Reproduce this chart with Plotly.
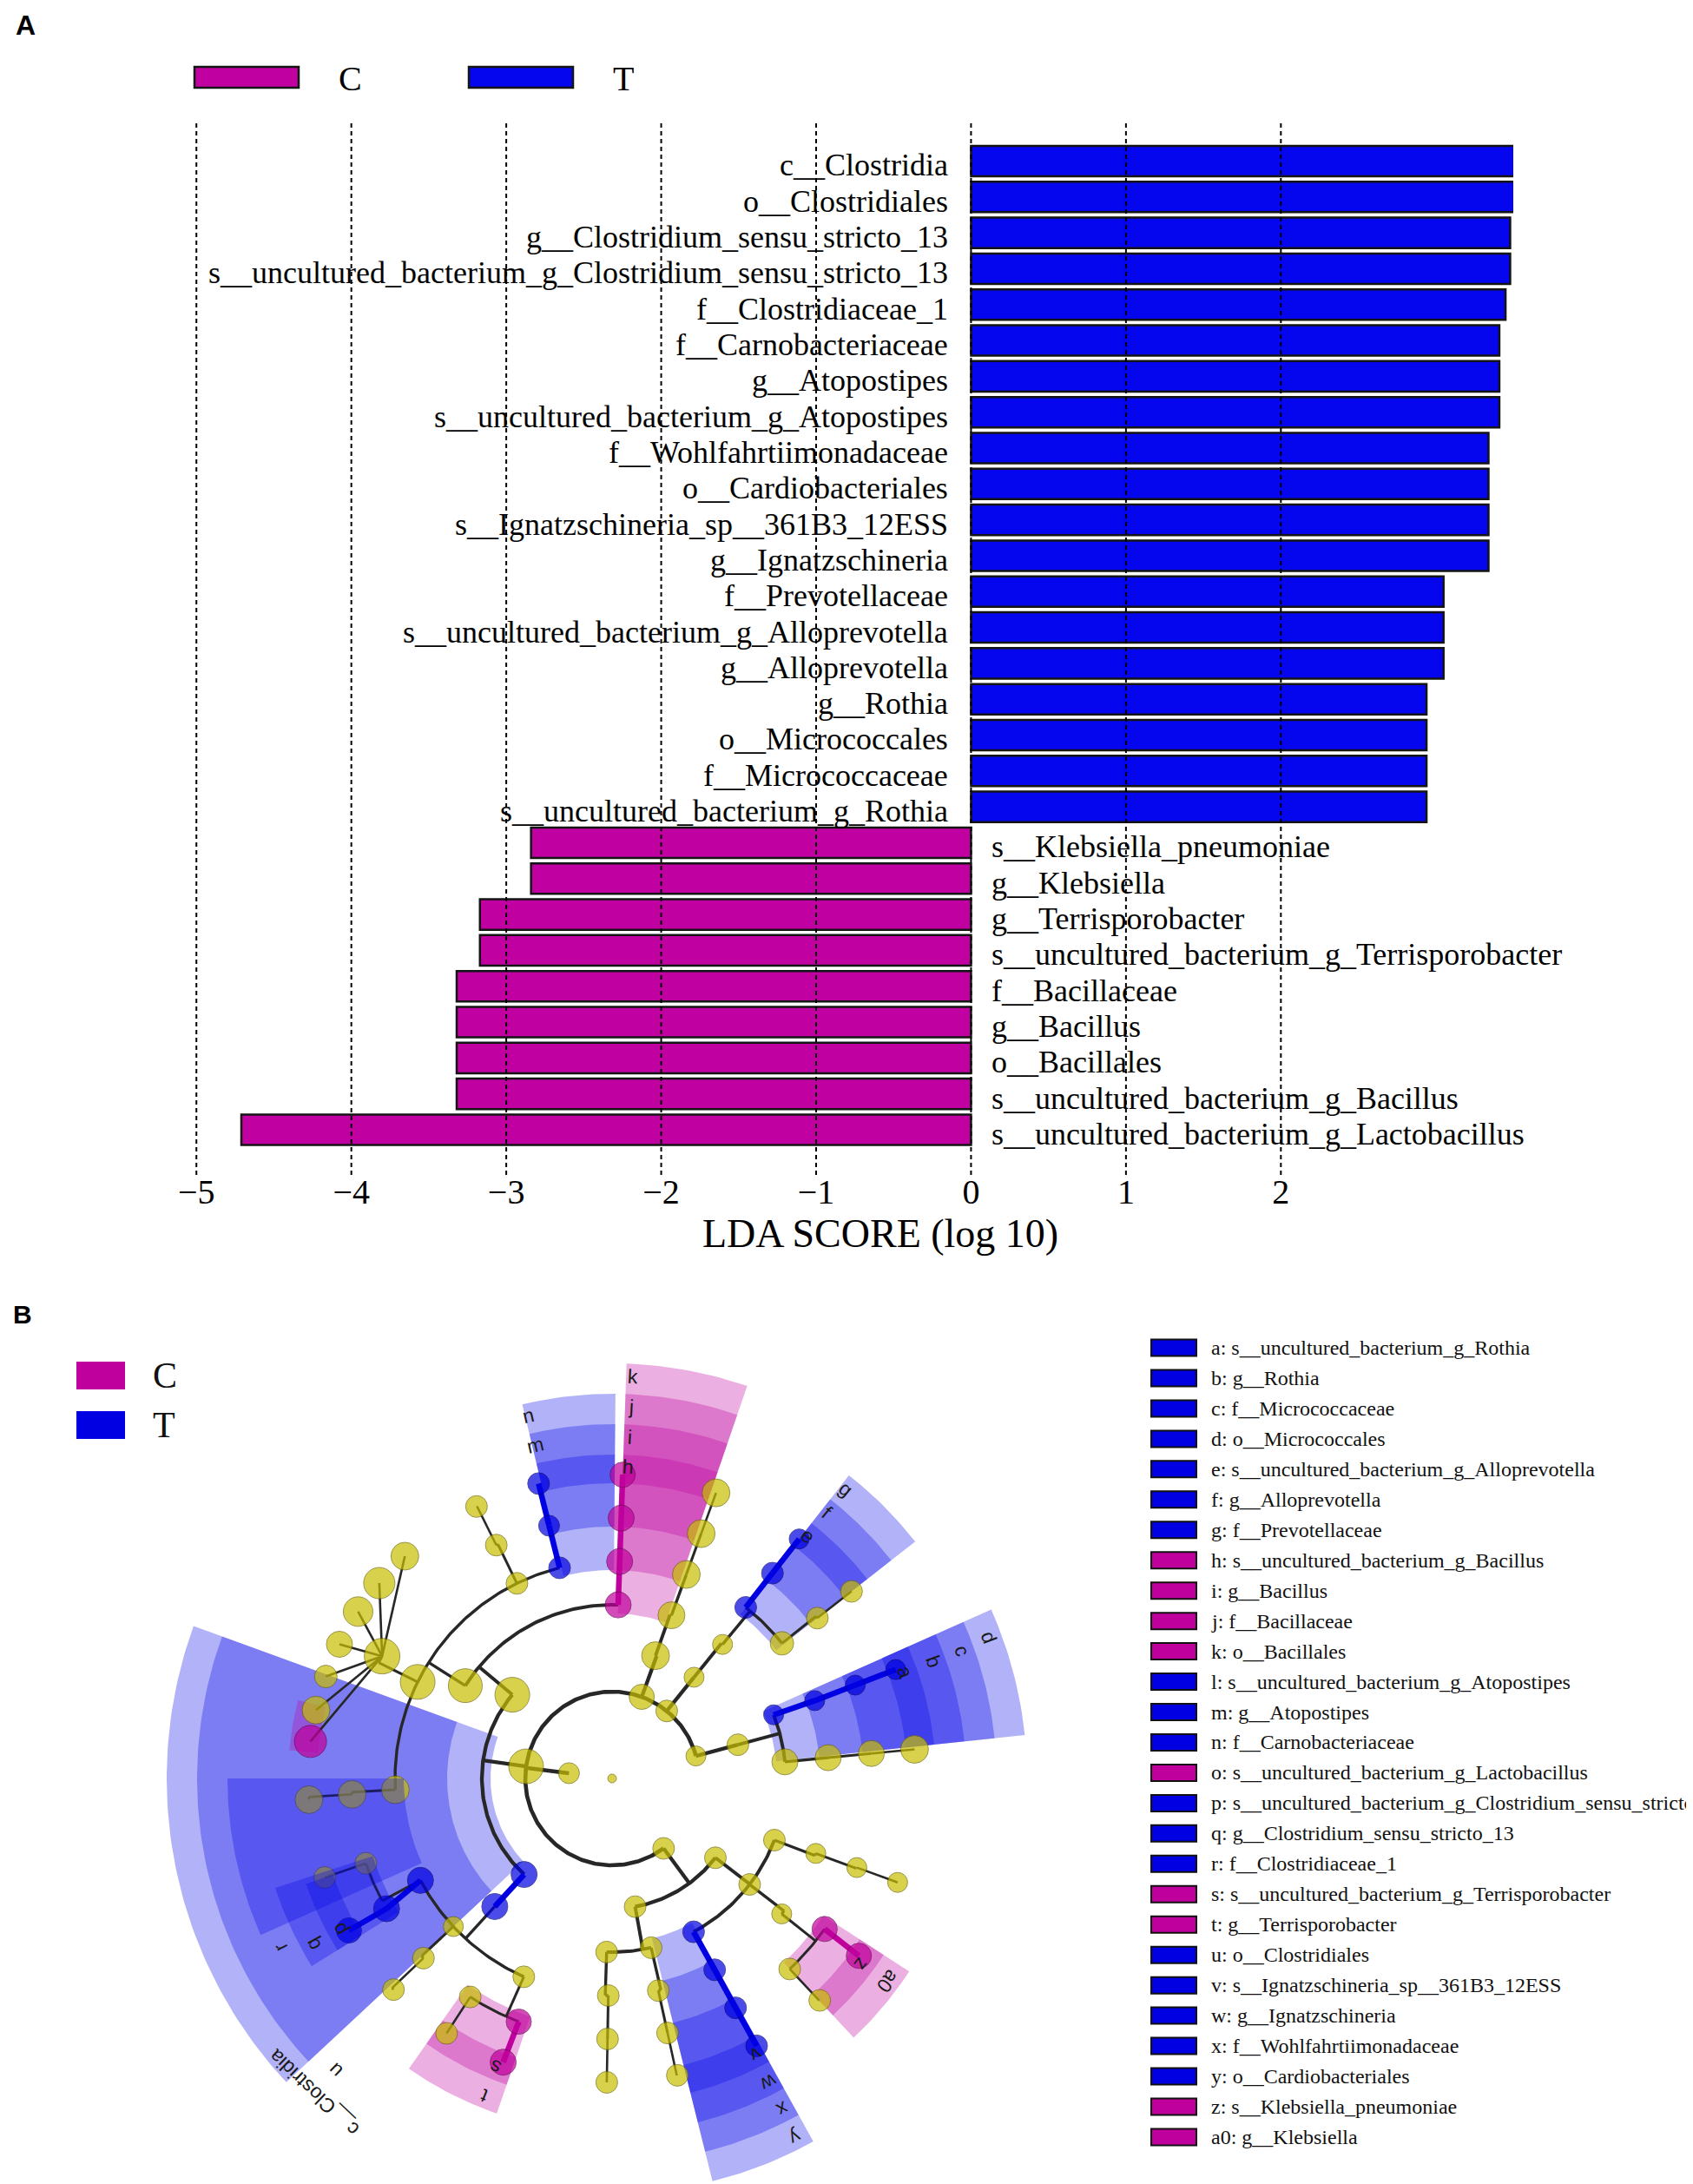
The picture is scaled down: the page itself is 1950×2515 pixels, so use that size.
import math
from collections import defaultdict
import plotly.graph_objects as go

W, H = 1950, 2515
SERIF = "Liberation Serif, Times New Roman, serif"
SANS = "Liberation Sans, Arial, sans-serif"


def px(x):
    return x / W


def py(y):
    return 1 - y / H


# ---------------- Panel A data (LDA scores) ----------------
taxa = [
    "c__Clostridia", "o__Clostridiales", "g__Clostridium_sensu_stricto_13",
    "s__uncultured_bacterium_g_Clostridium_sensu_stricto_13", "f__Clostridiaceae_1",
    "f__Carnobacteriaceae", "g__Atopostipes", "s__uncultured_bacterium_g_Atopostipes",
    "f__Wohlfahrtiimonadaceae", "o__Cardiobacteriales", "s__Ignatzschineria_sp__361B3_12ESS",
    "g__Ignatzschineria", "f__Prevotellaceae", "s__uncultured_bacterium_g_Alloprevotella",
    "g__Alloprevotella", "g__Rothia", "o__Micrococcales", "f__Micrococcaceae",
    "s__uncultured_bacterium_g_Rothia", "s__Klebsiella_pneumoniae", "g__Klebsiella",
    "g__Terrisporobacter", "s__uncultured_bacterium_g_Terrisporobacter", "f__Bacillaceae",
    "g__Bacillus", "o__Bacillales", "s__uncultured_bacterium_g_Bacillus",
    "s__uncultured_bacterium_g_Lactobacillus",
]
lda = [3.52, 3.52, 3.48, 3.48, 3.45, 3.41, 3.41, 3.41, 3.34, 3.34, 3.34, 3.34,
       3.05, 3.05, 3.05, 2.94, 2.94, 2.94, 2.94,
       -2.84, -2.84, -3.17, -3.17, -3.32, -3.32, -3.32, -3.32, -4.71]
lda_group = ["T"] * 19 + ["C"] * 9
x_ticks = [-5, -4, -3, -2, -1, 0, 1, 2]
group_names = ["C", "T"]
bar_colors = {"C": "#C000A0", "T": "#0505EE"}

# ---------------- Panel B data (cladogram) ----------------
# node id, parent, taxonomic level (0 = root), angle in degrees (clockwise from east), size, group
node_id = ["root", "K",
           "P_act", "C_act", "d", "c", "b", "a", "O_act2", "F_act2", "G_act2", "S_act2",
           "P_bac", "C_bac", "O_bac", "g", "f", "e", "F_bac2", "G_bac2", "S_bac2",
           "P_3", "C_3", "O_3", "F_3", "G_3", "S_3",
           "P_firm", "C_bacilli", "k", "j", "i", "h", "O_lacto", "n", "m", "l",
           "F_y1", "G_y1", "S_y1", "F_lacto", "G_lacto",
           "S_l1", "S_l2", "S_l3", "S_l4", "S_l5", "S_l6", "o",
           "F_y2", "G_y2", "S_y2",
           "cc", "u", "r", "q", "p", "G_r2", "S_r2", "F_u2", "G_u2", "S_u2",
           "F_u3", "G_u3", "S_u3", "t", "s",
           "P_prot", "C_gam", "O_g1", "F_g1", "G_g1", "S_g1", "O_ent", "F_ent", "a0", "z",
           "G_ent2", "S_ent2", "y", "x", "w", "v",
           "C_p2", "O_p2a", "F_p2a", "G_p2a", "S_p2a", "O_p2b", "F_p2b", "G_p2b", "S_p2b"]
node_parent = [None, "root",
               "K", "P_act", "C_act", "d", "c", "b", "C_act", "O_act2", "F_act2", "G_act2",
               "K", "P_bac", "C_bac", "O_bac", "g", "f", "O_bac", "F_bac2", "G_bac2",
               "K", "P_3", "C_3", "O_3", "F_3", "G_3",
               "K", "P_firm", "C_bacilli", "k", "j", "i", "C_bacilli", "O_lacto", "n", "m",
               "O_lacto", "F_y1", "G_y1", "O_lacto", "F_lacto",
               "G_lacto", "G_lacto", "G_lacto", "G_lacto", "G_lacto", "G_lacto", "G_lacto",
               "O_lacto", "F_y2", "G_y2",
               "P_firm", "cc", "u", "r", "q", "r", "G_r2", "u", "F_u2", "G_u2",
               "u", "F_u3", "G_u3", "F_u3", "t",
               "K", "P_prot", "C_gam", "O_g1", "F_g1", "G_g1", "C_gam", "O_ent", "F_ent", "a0",
               "F_ent", "G_ent2", "C_gam", "y", "x", "w",
               "P_prot", "C_p2", "O_p2a", "F_p2a", "G_p2a", "C_p2", "O_p2b", "F_p2b", "G_p2b"]
node_level = [0, 1,
              2, 3, 4, 5, 6, 7, 4, 5, 6, 7,
              2, 3, 4, 5, 6, 7, 5, 6, 7,
              2, 3, 4, 5, 6, 7,
              2, 3, 4, 5, 6, 7, 4, 5, 6, 7,
              5, 6, 7, 5, 6,
              7, 7, 7, 7, 7, 7, 7,
              5, 6, 7,
              3, 4, 5, 6, 7, 6, 7, 5, 6, 7,
              5, 6, 7, 6, 7,
              2, 3, 4, 5, 6, 7, 4, 5, 6, 7,
              6, 7, 4, 5, 6, 7,
              3, 4, 5, 6, 7, 4, 5, 6, 7]
node_angle = [0, -173,
              -15, -15, -21.5, -21, -21, -21, -5.5, -5.5, -5.5, -5.5,
              -51, -51, -50.5, -52, -52, -52, -38.5, -38, -38,
              -70, -70.5, -70, -70, -70, -70,
              -172, -140, -88, -88, -88, -88, -147.7, -104, -104, -104,
              -116, -116.4, -116.5, -153.6, -152,
              -133, -140, -146.7, -153.8, -160.4, -167, -173,
              -183, -183.5, -184,
              -227.5, -227.5, -208, -210, -210, -199, -199, -223, -223.6, -224,
              -246, -237, -237, -249, -249,
              -306.4, -322.5, -339.2, -339.8, -340, -340, -322.4, -321.4, -324.7, -324.3,
              -313, -313.1, -298, -298.2, -298.3, -298.4,
              -280.2, -283, -282.3, -282.3, -282.4, -268.2, -269, -269, -269]
node_size = [10, 24,
             23, 25, 23, 23, 23, 23, 30, 30, 30, 32,
             25, 23, 23, 25, 25, 23, 27, 25, 25,
             29, 32, 31, 32, 32, 32,
             40, 40, 30, 30, 30, 29, 39, 25, 24, 25,
             25, 25, 25, 40, 41,
             32, 36, 34, 30, 26, 32, 37,
             32, 32, 32,
             30, 30, 30, 30, 29, 25, 25, 23, 25, 25,
             25, 25, 25, 29, 30,
             25, 25, 25, 23, 23, 23, 25, 23, 29, 29,
             25, 25, 25, 25, 25, 25,
             25, 25, 25, 25, 25, 25, 25, 25, 25]
node_group = ["", "",
              "", "", "T", "T", "T", "T", "", "", "", "",
              "", "", "", "T", "T", "T", "", "", "",
              "", "", "", "", "", "",
              "", "", "C", "C", "C", "C", "", "T", "T", "T",
              "", "", "", "", "",
              "", "", "", "", "", "", "C",
              "", "", "",
              "T", "T", "T", "T", "T", "", "", "", "", "",
              "", "", "", "C", "C",
              "", "", "", "", "", "", "", "", "C", "C",
              "", "", "T", "T", "T", "T",
              "", "", "", "", "", "", "", "", ""]
spoke_parents = ["G_lacto"]

# shaded clade sectors: node, angular span, label text
wedge_node = ["cc", "u", "r", "q", "p", "o", "d", "c", "b", "a", "g", "f", "e",
              "k", "j", "i", "h", "n", "m", "l", "t", "s", "y", "x", "w", "v", "a0", "z"]
wedge_start = [-223, -223, -204, -212, -212, -175, -24, -24, -24, -24, -52, -52, -52,
               -88, -88, -88, -88, -103.5, -103.5, -103.5, -251, -251, -299, -299, -299, -299,
               -327, -327]
wedge_end = [-160, -160, -180, -198, -199, -166, -6, -6, -6, -6, -38, -38, -38,
             -71, -71, -71, -71, -89.5, -89.5, -89.5, -235, -235, -284, -284, -284, -284,
             -313, -313]
wedge_label = ["c__Clostridia", "u", "r", "q", "p", "", "d", "c", "b", "a", "g", "f", "e",
               "k", "j", "i", "h", "n", "m", "", "t", "s", "y", "x", "w", "v", "a0", "z"]
wedges_over_nodes = ["r", "q", "p"]

legend_keys = ["a", "b", "c", "d", "e", "f", "g", "h", "i", "j", "k", "l", "m", "n", "o",
               "p", "q", "r", "s", "t", "u", "v", "w", "x", "y", "z", "a0"]
legend_names = [
    "s__uncultured_bacterium_g_Rothia", "g__Rothia", "f__Micrococcaceae", "o__Micrococcales",
    "s__uncultured_bacterium_g_Alloprevotella", "g__Alloprevotella", "f__Prevotellaceae",
    "s__uncultured_bacterium_g_Bacillus", "g__Bacillus", "f__Bacillaceae", "o__Bacillales",
    "s__uncultured_bacterium_g_Atopostipes", "g__Atopostipes", "f__Carnobacteriaceae",
    "s__uncultured_bacterium_g_Lactobacillus",
    "s__uncultured_bacterium_g_Clostridium_sensu_stricto_13",
    "g__Clostridium_sensu_stricto_13", "f__Clostridiaceae_1",
    "s__uncultured_bacterium_g_Terrisporobacter", "g__Terrisporobacter", "o__Clostridiales",
    "s__Ignatzschineria_sp__361B3_12ESS", "g__Ignatzschineria", "f__Wohlfahrtiimonadaceae",
    "o__Cardiobacteriales", "s__Klebsiella_pneumoniae", "g__Klebsiella"]
legend_groups = ["T", "T", "T", "T", "T", "T", "T", "C", "C", "C", "C", "T", "T", "T", "C",
                 "T", "T", "T", "C", "C", "T", "T", "T", "T", "T", "C", "C"]

node_colors = {"C": "#C0009C", "T": "#0000E2", "": "#C8BE00"}
node_edge_colors = {"C": "#6E0058", "T": "#00007A", "": "#6E6800"}
wedge_fill = {"C": "rgba(190,0,158,0.31)", "T": "rgba(5,5,232,0.31)"}
edge_widths = {2: 4.6, 3: 4.3, 4: 3.9, 5: 3.4, 6: 3.0, 7: 2.6}

# ---------------- build figure ----------------
fig = go.Figure()
annotations = []
shapes = []

# Panel A bars
fig.add_trace(go.Bar(
    x=lda, y=taxa, orientation="h", width=0.85,
    marker=dict(color=[bar_colors[g] for g in lda_group], line=dict(color="#141414", width=2.5)),
    xaxis="x", yaxis="y", showlegend=False, hoverinfo="x+y"))

for name, v in zip(taxa, lda):
    pos = v > 0
    annotations.append(dict(
        x=-0.135 if pos else 0.12, y=name, xref="x", yref="y", text=name, showarrow=False,
        xanchor="right" if pos else "left", yanchor="middle", yshift=-5,
        font=dict(family=SERIF, size=36, color="black")))

for v in x_ticks:
    shapes.append(dict(type="line", xref="x", yref="y domain", x0=v, x1=v, y0=0, y1=1,
                       line=dict(color="black", width=2, dash="5px,4px"), layer="above"))

annotations.append(dict(x=px(1006), y=py(1412), xref="paper", yref="paper",
                        text="LDA SCORE (log 10)", showarrow=False, xanchor="center",
                        yanchor="middle", font=dict(family=SERIF, size=46, color="black")))

# Panel A legend
for i, gname in enumerate(group_names):
    x0 = 216 + 316 * i
    shapes.append(dict(type="rect", xref="paper", yref="paper", x0=px(x0), x1=px(x0 + 120),
                       y0=py(93), y1=py(69), fillcolor=bar_colors[gname],
                       line=dict(color="#141414", width=2.5)))
    annotations.append(dict(x=px(x0 + 164), y=py(82), xref="paper", yref="paper", text=gname,
                            showarrow=False, xanchor="left", yanchor="middle",
                            font=dict(family=SERIF, size=40, color="black")))

annotations.append(dict(x=px(8), y=py(21), xref="paper", yref="paper", text="<b>A</b>",
                        showarrow=False, xanchor="left", yanchor="middle",
                        font=dict(family=SANS, size=32, color="black")))
annotations.append(dict(x=px(5), y=py(1505), xref="paper", yref="paper", text="<b>B</b>",
                        showarrow=False, xanchor="left", yanchor="middle",
                        font=dict(family=SANS, size=30, color="black")))

# ---------------- Panel B cladogram ----------------
CX, CY, RSTEP = 697, 2040, 50
lev = dict(zip(node_id, node_level))
ang = dict(zip(node_id, node_angle))
grp = dict(zip(node_id, node_group))
kids = defaultdict(list)
for nid, par in zip(node_id, node_parent):
    if par is not None:
        kids[par].append(nid)


def pol(r, a):
    t = math.radians(a)
    return CX + r * math.cos(t), CY + r * math.sin(t)


def arc(r, a0, a1, step=0.8):
    n = max(2, int(abs(a1 - a0) / step) + 1)
    return [pol(r, a0 + (a1 - a0) * k / (n - 1)) for k in range(n)]


def wedge_trace(wid, a0, a1):
    L = lev[wid]
    r_in = RSTEP * L - 10
    r_out = 373 + 35 * (7 - L)
    pts = arc(r_in, a0, a1) + arc(r_out, a1, a0)
    pts.append(pts[0])
    return go.Scatter(x=[p[0] for p in pts], y=[p[1] for p in pts], mode="lines",
                      fill="toself", fillcolor=wedge_fill[grp[wid]],
                      line=dict(width=0, color="rgba(0,0,0,0)"), xaxis="x2", yaxis="y2",
                      hoverinfo="skip", showlegend=False)


late_wedges = []
for wid, a0, a1 in zip(wedge_node, wedge_start, wedge_end):
    tr = wedge_trace(wid, a0, a1)
    if wid in wedges_over_nodes:
        late_wedges.append(tr)
    else:
        fig.add_trace(tr)

black_segs = defaultdict(lambda: ([], []))
color_segs = defaultdict(lambda: ([], []))


def add_seg(store, key, pts):
    xs, ys = store[key]
    xs.extend([p[0] for p in pts] + [None])
    ys.extend([p[1] for p in pts] + [None])


for par, ch in kids.items():
    Lp = lev[par]
    if Lp == 0:
        continue
    rp, rc = RSTEP * Lp, RSTEP * (Lp + 1)
    ap = ang[par]
    wdt = edge_widths[Lp + 1]
    if par in spoke_parents:
        for c in ch:
            add_seg(black_segs, wdt, [pol(rp, ap), pol(rc, ang[c])])
        continue
    col = [c for c in ch if grp[c] and grp[c] == grp[par] and abs(ang[c] - ap) < 4]
    blk = [c for c in ch if c not in col]
    if blk:
        angs = [ang[c] for c in blk] + [ap]
        add_seg(black_segs, wdt, [pol(rp, ap), pol(rc, ap)])
        if max(angs) - min(angs) > 0.3:
            add_seg(black_segs, wdt, arc(rc, min(angs), max(angs)))
    for c in col:
        add_seg(color_segs, grp[c], [pol(rp, ap), pol(rc, ang[c])])

for wdt, (xs, ys) in black_segs.items():
    fig.add_trace(go.Scatter(x=xs, y=ys, mode="lines", line=dict(color="#272727", width=wdt),
                             xaxis="x2", yaxis="y2", hoverinfo="skip", showlegend=False))
for g, (xs, ys) in color_segs.items():
    fig.add_trace(go.Scatter(x=xs, y=ys, mode="lines", line=dict(color=node_colors[g], width=6.5),
                             xaxis="x2", yaxis="y2", hoverinfo="skip", showlegend=False))

npts = [pol(RSTEP * L, a) for L, a in zip(node_level, node_angle)]
fig.add_trace(go.Scatter(
    x=[p[0] for p in npts], y=[p[1] for p in npts], mode="markers",
    marker=dict(size=node_size, color=[node_colors[g] for g in node_group],
                line=dict(color=[node_edge_colors[g] for g in node_group], width=1)),
    xaxis="x2", yaxis="y2", hovertext=node_id, hoverinfo="text", showlegend=False))

for tr in late_wedges:
    fig.add_trace(tr)

for wid, text in zip(wedge_node, wedge_label):
    if not text:
        continue
    L = lev[wid]
    r_lab = 373 + 35 * (7 - L) - 14
    a = ang[wid] + 1
    lx, ly = pol(r_lab, a)
    rot = (a + 90 + 180) % 360 - 180
    annotations.append(dict(x=lx, y=ly, xref="x2", yref="y2", text=text, showarrow=False,
                            textangle=rot, xanchor="center", yanchor="middle",
                            font=dict(family=SANS, size=23, color="#1a1a1a")))

# Panel B group legend (left)
for i, gname in enumerate(group_names):
    y0 = 1560 + 57 * i
    shapes.append(dict(type="rect", xref="x2", yref="y2", x0=80, x1=136, y0=y0, y1=y0 + 32,
                       fillcolor=node_colors[gname], line=dict(width=0)))
    annotations.append(dict(x=166, y=y0 + 16, xref="x2", yref="y2", text=gname,
                            showarrow=False, xanchor="left", yanchor="middle",
                            font=dict(family=SERIF, size=42, color="#111111")))

# Panel B key list (right)
for kk, (key, name, g) in enumerate(zip(legend_keys, legend_names, legend_groups)):
    yc = 1544 + 34.96 * kk
    shapes.append(dict(type="rect", xref="x2", yref="y2", x0=1318, x1=1370, y0=yc - 9.5,
                       y1=yc + 9.5, fillcolor=node_colors[g], line=dict(color="#111111", width=2)))
    annotations.append(dict(x=1385, y=yc, xref="x2", yref="y2", text=f"{key}: {name}",
                            showarrow=False, xanchor="left", yanchor="middle",
                            font=dict(family=SERIF, size=24, color="#111111")))

fig.update_layout(
    width=W, height=H, margin=dict(l=0, r=0, t=0, b=0),
    paper_bgcolor="white", plot_bgcolor="white", showlegend=False,
    xaxis=dict(domain=[px(129), px(1735)], range=[-5.5, 3.5], tickvals=x_ticks,
               showgrid=False, zeroline=False, showline=False, ticks="",
               ticklabelstandoff=-8,
               tickfont=dict(family=SERIF, size=40, color="black"), anchor="y"),
    yaxis=dict(domain=[py(1345), py(133)], range=[len(taxa) - 1 + 1.26, -1.077],
               type="category", categoryorder="array", categoryarray=taxa,
               showticklabels=False, showgrid=False, zeroline=False, showline=False,
               ticks="", anchor="x"),
    xaxis2=dict(domain=[0, 1], range=[0, W], visible=False, anchor="y2"),
    yaxis2=dict(domain=[0, py(1450)], range=[H, 1450], visible=False, anchor="x2"),
    annotations=annotations, shapes=shapes,
)

fig.write_html("out.html")
